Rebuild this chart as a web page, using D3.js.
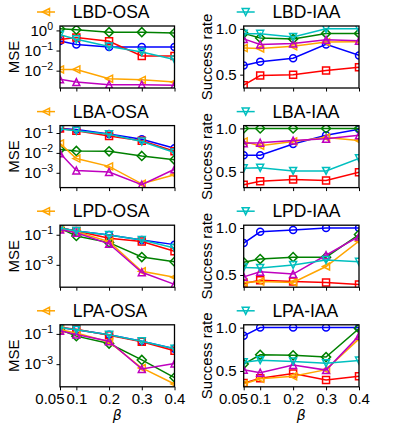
<!DOCTYPE html>
<html>
<head>
<meta charset="utf-8">
<script src="https://cdn.jsdelivr.net/npm/d3@7"></script>
<style>
  body { margin: 0; background: #fff; }
  svg text { font-family: "Liberation Sans", Arial, sans-serif; fill: #000; }
</style>
</head>
<body>
<svg id="drawing_region"></svg>
<script>
// x values (beta) and tick labels
const betas = [0.05, 0.1, 0.2, 0.3, 0.4];
const beta_ticks = [0.05, 0.1, 0.2, 0.3, 0.4];

// series order inside every panel array
const series_keys = ['blue', 'red', 'green', 'orange', 'magenta', 'cyan'];

const panel_titles = ['LBD-OSA', 'LBD-IAA', 'LBA-OSA', 'LBA-IAA',
                      'LPD-OSA', 'LPD-IAA', 'LPA-OSA', 'LPA-IAA'];

// MSE panels (left column)
const lbd_osa = [
    [0.30, 0.20, 0.15, 0.15, 0.15],
    [0.35, 0.44, 0.29, 0.054, 0.054],
    [1.2, 1.08, 0.82, 0.82, 0.74],
    [0.0115, 0.0115, 0.004, 0.0035, 0.0027],
    [0.0037, 0.0027, 0.002, 0.002, 0.0019],
    [0.61, 0.36, 0.16, 0.085, 0.036]
];
const lba_osa = [
    [0.17, 0.15, 0.09, 0.048, 0.017],
    [0.17, 0.13, 0.071, 0.041, 0.012],
    [0.015, 0.0126, 0.012, 0.007, 0.0045],
    [0.03, 0.0052, 0.0021, 0.00028, 0.0008],
    [0.0096, 0.0013, 0.0011, 0.00025, 0.0015],
    [0.158, 0.13, 0.086, 0.037, 0.0104]
];
const lpd_osa = [
    [0.28, 0.18, 0.095, 0.045, 0.022],
    [0.28, 0.18, 0.058, 0.035, 0.008],
    [0.27, 0.083, 0.03, 0.0033, 0.0016],
    [0.25, 0.16, 0.035, 0.00037, 0.00015],
    [0.22, 0.135, 0.025, 0.00032, 0.00005],
    [0.28, 0.18, 0.095, 0.045, 0.013]
];
const lpa_osa = [
    [0.26, 0.19, 0.087, 0.033, 0.0105],
    [0.26, 0.2, 0.08, 0.03, 0.0077],
    [0.19, 0.071, 0.023, 0.0019, 0.00013],
    [0.19, 0.115, 0.03, 0.00056, 0.000049],
    [0.16, 0.09, 0.033, 0.00048, 0.0011],
    [0.26, 0.19, 0.087, 0.033, 0.0103]
];

// success rate panels (right column)
const lbd_iaa = [
    [0.60, 0.64, 0.68, 0.83, 0.71],
    [0.385, 0.49, 0.50, 0.545, 0.58],
    [0.95, 0.90, 0.89, 0.95, 0.95],
    [0.79, 0.785, 0.81, 0.855, 0.86],
    [0.89, 0.83, 0.84, 0.88, 0.87],
    [0.946, 0.946, 0.91, 1.0, 1.0]
];
const lba_iaa = [
    [0.69, 0.69, 0.82, 0.92, 0.99],
    [0.35, 0.39, 0.41, 0.40, 0.495],
    [1.0, 1.0, 1.0, 1.0, 1.0],
    [0.85, 0.80, 0.85, 0.895, 0.86],
    [0.83, 0.835, 0.86, 0.88, 0.92],
    [0.54, 0.545, 0.51, 0.51, 0.655]
];
const lpd_iaa = [
    [0.84, 0.96, 0.98, 1.0, 1.0],
    [0.41, 0.445, 0.43, 0.42, 0.40],
    [0.635, 0.67, 0.69, 0.69, 0.93],
    [0.42, 0.43, 0.42, 0.59, 0.86],
    [0.48, 0.535, 0.51, 0.71, 0.91],
    [0.58, 0.575, 0.607, 0.66, 0.64]
];
const lpa_iaa = [
    [0.905, 1.0, 1.0, 1.0, 1.0],
    [0.36, 0.415, 0.47, 0.395, 0.44],
    [0.58, 0.686, 0.68, 0.66, 0.99],
    [0.35, 0.41, 0.44, 0.515, 0.87],
    [0.515, 0.48, 0.57, 0.51, 0.905],
    [0.60, 0.625, 0.61, 0.59, 0.62]
];

const mse_ticks = [[1, 0.1, 0.01], [0.1, 0.01, 0.001], [0.1, 0.001], [0.1, 0.001]];
const rate_ticks = [0.5, 1.0];

const styles = {
    blue:    { color: '#0000ff', marker: 'o' },
    red:     { color: '#ff0000', marker: 's' },
    green:   { color: '#008000', marker: 'D' },
    orange:  { color: '#ffa500', marker: '<' },
    magenta: { color: '#bf00bf', marker: '^' },
    cyan:    { color: '#00bfbf', marker: 'v' }
};

function marker_path( m, size ) {
    const h = size / 2;
    if ( m == 'o' ) return `M${h},0A${h},${h} 0 1,1 ${-h},0A${h},${h} 0 1,1 ${h},0Z`;
    if ( m == 's' ) return `M${-h},${-h}H${h}V${h}H${-h}Z`;
    if ( m == 'D' ) { const d = h * 1.3; return `M0,${-d}L${d},0L0,${d}L${-d},0Z`; }
    if ( m == '^' ) return `M0,${-h}L${h},${h}L${-h},${h}Z`;
    if ( m == 'v' ) return `M0,${h}L${h},${-h}L${-h},${-h}Z`;
    if ( m == '<' ) return `M${-h},0L${h},${-h}L${h},${h}Z`;
}

class LinePanel {

    constructor( config, data ) {
        this.config = {
            parent: config.parent,
            id: config.id,
            left: config.left,
            top: config.top,
            width: config.width || 115,
            height: config.height || 62,
            title: config.title,
            legend_key: config.legend_key,
            legend_dx: config.legend_dx,
            log: config.log,
            y_ticks: config.y_ticks,
            ylabel: config.ylabel,
            ylabel_dx: config.ylabel_dx,
            bottom_row: config.bottom_row
        }
        this.data = data;
        this.init();
    }

    init() {
        let self = this;

        self.chart = self.config.parent.append('g')
            .attr('transform', `translate(${self.config.left}, ${self.config.top})`);

        self.xscale = d3.scaleLinear()
            .domain([0.05, 0.4])
            .range([0, self.config.width]);

        const all = self.data.flat();
        if ( self.config.log ) {
            const lo = Math.log10(d3.min(all)), hi = Math.log10(d3.max(all));
            const pad = (hi - lo) * 0.05;
            self.yscale = d3.scaleLog()
                .domain([Math.pow(10, lo - pad), Math.pow(10, hi + pad)])
                .range([self.config.height, 0]);
        } else {
            const lo = d3.min(all), hi = d3.max(all);
            const pad = (hi - lo) * 0.05;
            self.yscale = d3.scaleLinear()
                .domain([lo - pad, hi + pad])
                .range([self.config.height, 0]);
        }
    }

    update() {
        let self = this;
        self.render();
    }

    render() {
        let self = this;
        const W = self.config.width, H = self.config.height;

        self.chart.append('clipPath')
            .attr('id', self.config.id)
            .append('rect')
            .attr('width', W)
            .attr('height', H);

        const plot = self.chart.append('g')
            .attr('clip-path', `url(#${self.config.id})`);

        const line = d3.line()
            .x( d => self.xscale(d.x) )
            .y( d => self.yscale(d.y) );

        series_keys.forEach( (key, i) => {
            const pts = betas.map( (b, j) => ({ x: b, y: self.data[i][j] }) );
            const st = styles[key];
            plot.append('path')
                .datum(pts)
                .attr('d', line)
                .attr('fill', 'none')
                .attr('stroke', st.color)
                .attr('stroke-width', 1.5);
            plot.selectAll(null)
                .data(pts)
                .enter()
                .append('path')
                .attr('d', marker_path(st.marker, 7))
                .attr('transform', d => `translate(${self.xscale(d.x)}, ${self.yscale(d.y)})`)
                .attr('fill', 'none')
                .attr('stroke', st.color)
                .attr('stroke-width', 1.5);
        });

        // x axis
        const xaxis = d3.axisBottom(self.xscale)
            .tickValues(beta_ticks)
            .tickSize(3.5)
            .tickPadding(3.5)
            .tickFormat( d => self.config.bottom_row ? String(d) : '' );
        const xg = self.chart.append('g')
            .attr('transform', `translate(0, ${H})`)
            .call(xaxis);
        xg.select('.domain').remove();
        xg.selectAll('.tick line').attr('stroke', '#000').attr('stroke-width', 1);
        xg.selectAll('.tick text')
            .attr('font-size', 15)
            .attr('font-family', '"Liberation Sans", Arial, sans-serif');
        xg.selectAll('.tick text')
            .filter( d => d == 0.05 )
            .attr('text-anchor', 'end')
            .attr('x', 4);

        // y axis
        const yaxis = d3.axisLeft(self.yscale)
            .tickValues(self.config.y_ticks)
            .tickSize(3.5)
            .tickPadding(3.5)
            .tickFormat( d => self.config.log ? '' : d.toFixed(1) );
        const yg = self.chart.append('g').call(yaxis);
        yg.select('.domain').remove();
        yg.selectAll('.tick line').attr('stroke', '#000').attr('stroke-width', 1);
        yg.selectAll('.tick text')
            .attr('font-size', 15)
            .attr('font-family', '"Liberation Sans", Arial, sans-serif');
        if ( self.config.log ) {
            yg.selectAll('.tick text').each( function(d) {
                const e = Math.round(Math.log10(d));
                const t = d3.select(this);
                t.append('tspan').text('10');
                t.append('tspan')
                    .attr('dy', '-0.55em')
                    .attr('font-size', 10.5)
                    .text(e < 0 ? '\u2212' + (-e) : String(e));
            });
        }

        // frame
        self.chart.append('rect')
            .attr('width', W)
            .attr('height', H)
            .attr('fill', 'none')
            .attr('stroke', '#000')
            .attr('stroke-width', 1.3);

        // y label
        self.chart.append('text')
            .attr('transform', `translate(${self.config.ylabel_dx}, ${H / 2}) rotate(-90)`)
            .attr('text-anchor', 'middle')
            .attr('dy', '0.35em')
            .attr('font-size', 15)
            .text(self.config.ylabel);

        // x label
        if ( self.config.bottom_row ) {
            self.chart.append('text')
                .attr('x', W / 2)
                .attr('y', H + 33)
                .attr('text-anchor', 'middle')
                .attr('font-size', 14)
                .attr('font-style', 'italic')
                .style('font-family', '"DejaVu Sans", sans-serif')
                .text('\u03b2');
        }

        // legend
        const st = styles[self.config.legend_key];
        const lg = self.chart.append('g')
            .attr('transform', `translate(${self.config.legend_dx}, -14)`);
        lg.append('line')
            .attr('x1', 0).attr('x2', 18)
            .attr('stroke', st.color)
            .attr('stroke-width', 1.5);
        lg.append('path')
            .attr('d', marker_path(st.marker, 7))
            .attr('transform', 'translate(9, 0)')
            .attr('fill', 'none')
            .attr('stroke', st.color)
            .attr('stroke-width', 1.5);
        lg.append('text')
            .attr('x', 35.7)
            .attr('y', 6)
            .attr('font-size', 17.5)
            .text(self.config.title);
    }
}

const svg = d3.select('#drawing_region')
    .attr('width', 399)
    .attr('height', 426);

svg.append('rect').attr('width', 399).attr('height', 426).attr('fill', '#fff');

const mse_data = [lbd_osa, lba_osa, lpd_osa, lpa_osa];
const rate_data = [lbd_iaa, lba_iaa, lpd_iaa, lpa_iaa];

for ( let r = 0; r < 4; r++ ) {
    const top = 26 + r * 99.6;
    const left_panel = new LinePanel({
        parent: svg, id: `clip_l${r}`,
        left: 60, top: top, width: 114.5, height: 62,
        title: panel_titles[r * 2], legend_key: 'orange', legend_dx: -23,
        log: true, y_ticks: mse_ticks[r],
        ylabel: 'MSE', ylabel_dx: -46,
        bottom_row: r == 3
    }, mse_data[r]);
    left_panel.update();

    const right_panel = new LinePanel({
        parent: svg, id: `clip_r${r}`,
        left: 243.7, top: top, width: 115.3, height: 62,
        title: panel_titles[r * 2 + 1], legend_key: 'cyan', legend_dx: -7,
        log: false, y_ticks: rate_ticks,
        ylabel: 'Success rate', ylabel_dx: -37,
        bottom_row: r == 3
    }, rate_data[r]);
    right_panel.update();
}
</script>
</body>
</html>
